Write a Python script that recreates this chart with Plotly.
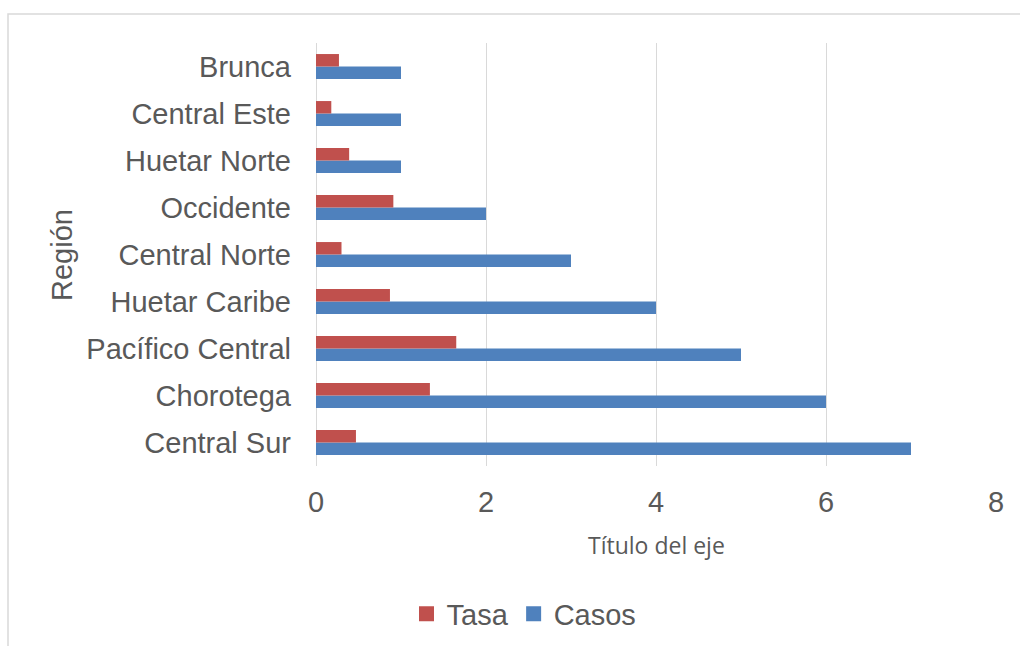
import plotly.graph_objects as go

regions = ["Central Sur", "Chorotega", "Pacífico Central", "Huetar Caribe",
           "Central Norte", "Occidente", "Huetar Norte", "Central Este", "Brunca"]
casos = [7, 6, 5, 4, 3, 2, 1, 1, 1]
tasa = [0.47, 1.34, 1.65, 0.87, 0.30, 0.91, 0.39, 0.18, 0.27]
x_ticks = [0, 2, 4, 6, 8]

TXT = "#595959"
C_CASOS = "#4F81BD"
C_TASA = "#C0504D"
FS = 29
fig = go.Figure()
fig.add_trace(go.Bar(y=regions, x=casos, name="Casos", orientation="h",
                     marker=dict(color=C_CASOS, line=dict(width=0)), showlegend=False))
fig.add_trace(go.Bar(y=regions, x=tasa, name="Tasa", orientation="h",
                     marker=dict(color=C_TASA, line=dict(width=0)), showlegend=False))
# legend entries with larger square swatches
fig.add_trace(go.Scatter(x=[None], y=[None], mode="markers", name="Tasa",
                         marker=dict(symbol="square", size=15, color=C_TASA), legendrank=1))
fig.add_trace(go.Scatter(x=[None], y=[None], mode="markers", name="Casos",
                         marker=dict(symbol="square", size=15, color=C_CASOS), legendrank=2))

L, R, T, B = 316, 24, 43, 180
W, H = 1020, 646
pw, ph = W - L - R, H - T - B

fig.update_layout(
    width=W, height=H,
    margin=dict(l=L, r=R, t=T, b=B, autoexpand=False),
    paper_bgcolor="white", plot_bgcolor="white",
    barmode="group", bargap=0.47, bargroupgap=0,
    font=dict(family="Liberation Sans, Arial, sans-serif", color=TXT, size=FS),
    showlegend=True,
    legend=dict(orientation="h", x=(524 - L) / pw, xanchor="center",
                y=(H - B - 614) / ph, yanchor="middle",
                font=dict(size=FS, color=TXT), itemwidth=30,
                traceorder="normal"),
    xaxis=dict(range=[0, 8], tickvals=x_ticks, showgrid=True, gridcolor="#D9D9D9",
               gridwidth=1, zeroline=True, zerolinecolor="#D9D9D9", zerolinewidth=1,
               showline=False, ticks="", ticklabelstandoff=16,
               tickfont=dict(size=FS, color=TXT), fixedrange=True),
    yaxis=dict(categoryorder="array", categoryarray=regions, showgrid=False,
               showline=False, ticks="", ticklabelstandoff=24,
               tickfont=dict(size=FS, color=TXT), fixedrange=True),
    shapes=[dict(type="rect", xref="paper", yref="paper",
                 x0=(8 - L) / pw, x1=1.2, y0=-1.0, y1=1 + (T - 14) / ph,
                 line=dict(color="#D9D9D9", width=1.5), fillcolor="rgba(0,0,0,0)",
                 layer="below")],
    annotations=[
        dict(text="Título del eje", xref="paper", yref="paper",
             x=0.5, y=(H - B - 545) / ph, xanchor="center", yanchor="middle",
             showarrow=False, font=dict(family="Open Sans, Lato, sans-serif", size=23, color=TXT)),
        dict(text="Región", xref="paper", yref="paper",
             x=(62 - L) / pw, y=(H - B - 255) / ph, xanchor="center", yanchor="middle",
             textangle=-90, showarrow=False, font=dict(size=FS, color=TXT)),
    ],
)

fig.write_html("out.html", config={"displayModeBar": False})
with open("out.html", encoding="utf-8") as f:
    html = f.read()
html = html.replace("<body>", '<body style="margin:0;padding:0;overflow:hidden">', 1)
with open("out.html", "w", encoding="utf-8") as f:
    f.write(html)
